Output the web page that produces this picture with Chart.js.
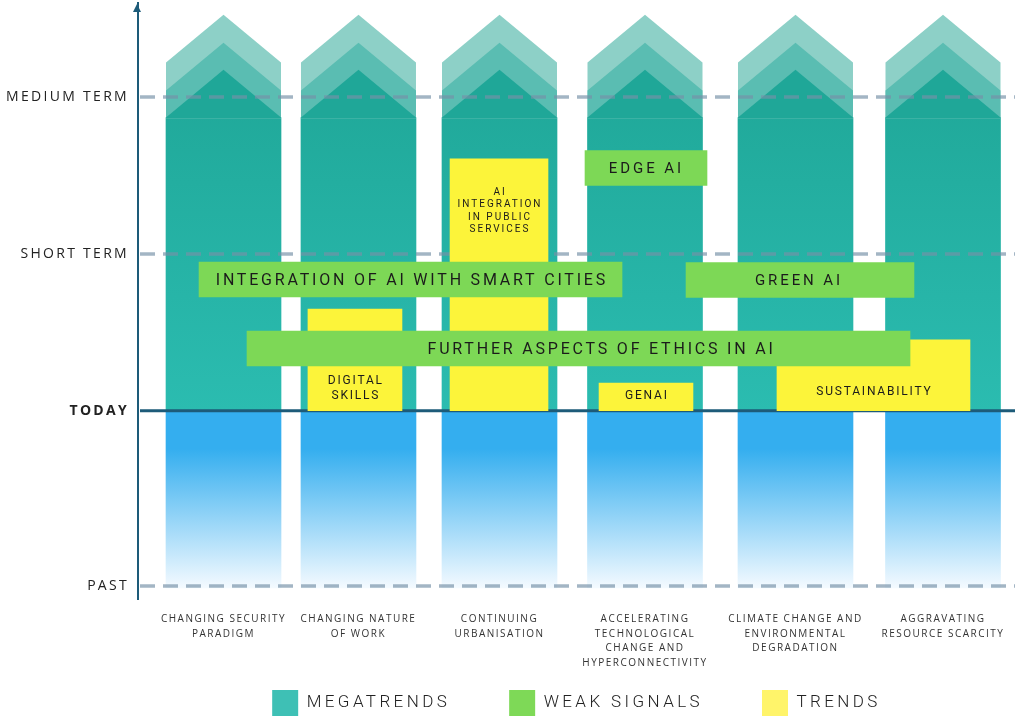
<!DOCTYPE html>
<html lang="en">
<head>
<meta charset="utf-8">
<title>AI foresight: megatrends, weak signals and trends</title>
<script src="https://cdn.jsdelivr.net/npm/chart.js@4.4.1/dist/chart.umd.min.js"></script>
<style>
    html, body { margin: 0; padding: 0; background: #fff; }
    #wrap { width: 1027px; height: 716px; }
</style>
</head>
<body>
<div id="wrap"><canvas id="foresight" width="1027" height="716"></canvas></div>
<script>
// --- DATA ---
// Vertical axis is time: TODAY = 0, one unit per horizon. Horizontal axis runs 0..100 across the plot.
const horizonLabels = ['PAST', 'TODAY', 'SHORT TERM', 'MEDIUM TERM'];
const horizonValues = [-1.117, 0, 1, 2];

const megatrendLabels = [
    ['CHANGING SECURITY', 'PARADIGM'],
    ['CHANGING NATURE', 'OF WORK'],
    ['CONTINUING', 'URBANISATION'],
    ['ACCELERATING', 'TECHNOLOGICAL', 'CHANGE AND', 'HYPERCONNECTIVITY'],
    ['CLIMATE CHANGE AND', 'ENVIRONMENTAL', 'DEGRADATION'],
    ['AGGRAVATING', 'RESOURCE SCARCITY']
];
const megatrendX = [9.75, 25.14, 41.22, 57.81, 74.97, 91.79];
const megatrendStart = [-1.13, -1.13, -1.13, -1.13, -1.13, -1.13];
const megatrendEnd = [1.87, 1.87, 1.87, 1.87, 1.87, 1.87];

const signalLabels = ['EDGE AI', 'INTEGRATION OF AI WITH SMART CITIES', 'GREEN AI', 'FURTHER ASPECTS OF ETHICS IN AI'];
const signalAt = [1.548, 0.837, 0.834, 0.397];
const signalFrom = [50.97, 6.96, 62.49, 12.43];
const signalTo = [64.88, 55.19, 88.48, 88.03];
const signalTextX = [57.8, 31.07, 75.2, 52.7];

const trendLabels = [
    ['DIGITAL', 'SKILLS'],
    ['AI', 'INTEGRATION', 'IN PUBLIC', 'SERVICES'],
    ['GENAI'],
    ['SUSTAINABILITY']
];
const trendFrom = [19.38, 35.58, 52.57, 72.86];
const trendTo = [30.10, 46.75, 63.28, 94.87];
const trendReach = [0.649, 1.606, 0.177, 0.452];
const trendTextAt = [0.142, 1.274, 0.094, 0.12];

// --- COLOURS ---
const TEAL_TOP = '#1fa798';
const TEAL_LOW = '#2bbcb0';
const CHEVRON_LIGHT = '#8dd0c7';
const CHEVRON_MID = '#5abdb2';
const SKY = '#34aeef';
const GREEN = '#7dd856';
const YELLOW = '#fcf43a';
const AXIS_BLUE = '#1d5b79';
const legendColours = ['#3ec0b5', '#7ed957', '#fff46a'];

// linear scale that can draw its tick labels with tracking
class TrackedLinearScale extends Chart.LinearScale {
    _computeLabelArea() {
        return undefined;
    }
    drawLabels(chartArea) {
        const ctx = this.ctx;
        ctx.save();
        ctx.letterSpacing = this.options.ticks.tracking || '0px';
        super.drawLabels(chartArea);
        ctx.restore();
    }
}
TrackedLinearScale.id = 'trackedLinear';
TrackedLinearScale.defaults = Chart.LinearScale.defaults;
Chart.register(TrackedLinearScale);

// axes keep exactly the size we give them, no extra room for edge labels
function fixSize(prop, size) {
    return (scale) => {
        scale[prop] = size;
        scale.paddingLeft = scale.paddingRight = scale.paddingTop = scale.paddingBottom = 0;
    };
}

function columnFill(context) {
    const { ctx, chartArea, scales } = context.chart;
    if (!chartArea) return TEAL_LOW;
    const y = scales.y;
    const top = y.getPixelForValue(megatrendEnd[0]) - 50;
    const bottom = y.getPixelForValue(megatrendStart[0]);
    const today = y.getPixelForValue(0);
    const at = (p) => Math.min(1, Math.max(0, (p - top) / (bottom - top)));
    const g = ctx.createLinearGradient(0, top, 0, bottom);
    g.addColorStop(0, TEAL_TOP);
    g.addColorStop(at(today), TEAL_LOW);
    g.addColorStop(at(today) + 0.0005, SKY);
    g.addColorStop(at(today + 38), SKY);
    g.addColorStop(1, '#f4faff');
    return g;
}

// bars whose width follows a span on the x scale
const spanWidths = {
    id: 'spanWidths',
    afterDatasetUpdate(chart, args) {
        const ds = chart.data.datasets[args.index];
        if (!ds.spans) return;
        const x = chart.scales.x;
        args.meta.data.forEach((bar, i) => {
            const l = x.getPixelForValue(ds.spans[i][0]);
            const r = x.getPixelForValue(ds.spans[i][1]);
            bar.x = (l + r) / 2;
            bar.width = r - l;
        });
    }
};

// chevron heads on the megatrend columns, then the horizon lines over them
const columnHeads = {
    id: 'columnHeads',
    afterDatasetDraw(chart, args) {
        if (args.index !== 0) return;
        const ctx = chart.ctx;
        ctx.save();
        args.meta.data.forEach(bar => {
            const left = bar.x - bar.width / 2;
            const right = bar.x + bar.width / 2;
            const top = bar.y;
            const tip = bar.width * 0.415;
            [[55, CHEVRON_LIGHT], [27, CHEVRON_MID], [0, TEAL_TOP]].forEach(([lift, colour]) => {
                ctx.fillStyle = colour;
                ctx.beginPath();
                ctx.moveTo(left, top + 1);
                ctx.lineTo(left, top - lift);
                ctx.lineTo(bar.x, top - lift - tip);
                ctx.lineTo(right, top - lift);
                ctx.lineTo(right, top + 1);
                ctx.closePath();
                ctx.fill();
            });
        });

        const y = chart.scales.y;
        const { left, right } = chart.chartArea;
        y.ticks.forEach(t => {
            const py = y.getPixelForValue(t.value);
            if (t.value === 0) {
                ctx.strokeStyle = AXIS_BLUE;
                ctx.lineWidth = 3;
                ctx.setLineDash([]);
            } else {
                ctx.strokeStyle = 'rgba(118, 145, 167, 0.67)';
                ctx.lineWidth = 3.5;
                ctx.setLineDash([15, 8]);
            }
            ctx.beginPath();
            ctx.moveTo(left + 2, py);
            ctx.lineTo(right, py);
            ctx.stroke();
        });
        ctx.restore();
    }
};

function drawTracked(ctx, text, x, y, spacing) {
    ctx.letterSpacing = spacing + 'px';
    ctx.fillText(text, x + spacing / 2, y);
}

// text inside the weak signal and trend boxes
const boxLabels = {
    id: 'boxLabels',
    afterDatasetsDraw(chart) {
        const ctx = chart.ctx;
        const x = chart.scales.x;
        const y = chart.scales.y;
        ctx.save();
        ctx.fillStyle = '#1b1b1b';
        ctx.textAlign = 'center';
        ctx.textBaseline = 'middle';

        chart.getDatasetMeta(1).data.forEach((bar, i) => {
            const long = signalLabels[i].length > 30;
            ctx.font = `400 ${long ? 16 : 15}px Roboto, "Open Sans", sans-serif`;
            drawTracked(ctx, signalLabels[i], x.getPixelForValue(signalTextX[i]), bar.y + 1, long ? 2.8 : 2.9);
        });

        chart.getDatasetMeta(2).data.forEach((bar, i) => {
            const lines = trendLabels[i];
            const size = lines.length > 2 ? 10 : 12;
            const lineH = size * 1.22;
            ctx.font = `400 ${size}px Roboto, "Open Sans", sans-serif`;
            const cy = y.getPixelForValue(trendTextAt[i]);
            lines.forEach((line, k) => {
                drawTracked(ctx, line, bar.x, cy + (k - (lines.length - 1) / 2) * lineH, size > 10 ? 1.8 : 2);
            });
        });
        ctx.restore();
    }
};

// arrowhead on top of the time axis; legend tracking
const axisArrow = {
    id: 'axisArrow',
    beforeLayout(chart) {
        chart.ctx.letterSpacing = '3.4px';
    },
    beforeDraw(chart) {
        chart.ctx.letterSpacing = '3.4px';
    },
    afterDraw(chart) {
        const ctx = chart.ctx;
        const ax = chart.chartArea.left - 1;
        const top = chart.chartArea.top + 1;
        ctx.save();
        ctx.fillStyle = AXIS_BLUE;
        ctx.beginPath();
        ctx.moveTo(ax, top);
        ctx.lineTo(ax - 4, top + 8);
        ctx.lineTo(ax + 4, top + 8);
        ctx.closePath();
        ctx.fill();
        ctx.restore();
    }
};

const datasets = [
    {
        label: 'MEGATRENDS',
        order: 3,
        data: megatrendX.map((v, i) => ({ x: v, y: [megatrendStart[i], megatrendEnd[i]] })),
        backgroundColor: columnFill,
        borderWidth: 0,
        grouped: false,
        barThickness: 115,
        barPercentage: 1
    },
    {
        label: 'WEAK SIGNALS',
        order: 1,
        indexAxis: 'y',
        data: signalAt.map((v, i) => ({ y: v, x: [signalFrom[i], signalTo[i]] })),
        backgroundColor: GREEN,
        borderWidth: 0,
        grouped: false,
        barThickness: 35,
        barPercentage: 1
    },
    {
        label: 'TRENDS',
        order: 2,
        data: trendFrom.map((v, i) => ({ x: (v + trendTo[i]) / 2, y: [0, trendReach[i]] })),
        spans: trendFrom.map((v, i) => [v, trendTo[i]]),
        backgroundColor: YELLOW,
        borderWidth: 0,
        grouped: false,
        barThickness: 90,
        barPercentage: 1
    }
];

new Chart(document.getElementById('foresight'), {
    type: 'bar',
    data: { datasets: datasets },
    plugins: [spanWidths, columnHeads, boxLabels, axisArrow],
    options: {
        responsive: false,
        animation: false,
        events: [],
        layout: { padding: { top: 3, right: 12, bottom: -10, left: 0 } },
        scales: {
            x: {
                type: 'trackedLinear',
                offset: false,
                min: 0,
                max: 100,
                afterBuildTicks: (scale) => { scale.ticks = megatrendX.map(v => ({ value: v })); },
                afterFit: fixSize('height', 32),
                grid: { display: false, drawTicks: false, offset: false },
                border: { display: false },
                ticks: {
                    autoSkip: false,
                    maxRotation: 0,
                    minRotation: 0,
                    padding: 13,
                    color: '#333',
                    tracking: '1.5px',
                    font: { family: '"Open Sans", sans-serif', size: 10, lineHeight: 1.45 },
                    callback: (value, index) => megatrendLabels[index]
                }
            },
            y: {
                type: 'trackedLinear',
                offset: false,
                min: -1.2,
                max: 2.6,
                afterBuildTicks: (scale) => { scale.ticks = horizonValues.map(v => ({ value: v })); },
                afterFit: fixSize('width', 138),
                grid: { display: false, drawTicks: false, offset: false },
                border: { display: true, color: AXIS_BLUE, width: 2 },
                ticks: {
                    padding: 9,
                    color: '#222',
                    tracking: '2.3px',
                    font: (ctx) => ({
                        family: '"Open Sans", sans-serif',
                        size: 14,
                        weight: ctx.tick && ctx.tick.value === 0 ? '700' : '400'
                    }),
                    callback: (value, index) => horizonLabels[index]
                }
            }
        },
        plugins: {
            tooltip: { enabled: false },
            legend: {
                position: 'bottom',
                fullSize: false,
                labels: {
                    boxWidth: 26,
                    boxHeight: 26,
                    padding: 59,
                    color: '#222',
                    font: { family: 'Roboto, sans-serif', size: 17, weight: '300' },
                    sort: (a, b) => a.datasetIndex - b.datasetIndex,
                    generateLabels(chart) {
                        return Chart.defaults.plugins.legend.labels.generateLabels(chart).map(item => ({
                            ...item,
                            fillStyle: legendColours[item.datasetIndex],
                            strokeStyle: legendColours[item.datasetIndex],
                            lineWidth: 0
                        }));
                    }
                }
            }
        }
    }
});
</script>
</body>
</html>
